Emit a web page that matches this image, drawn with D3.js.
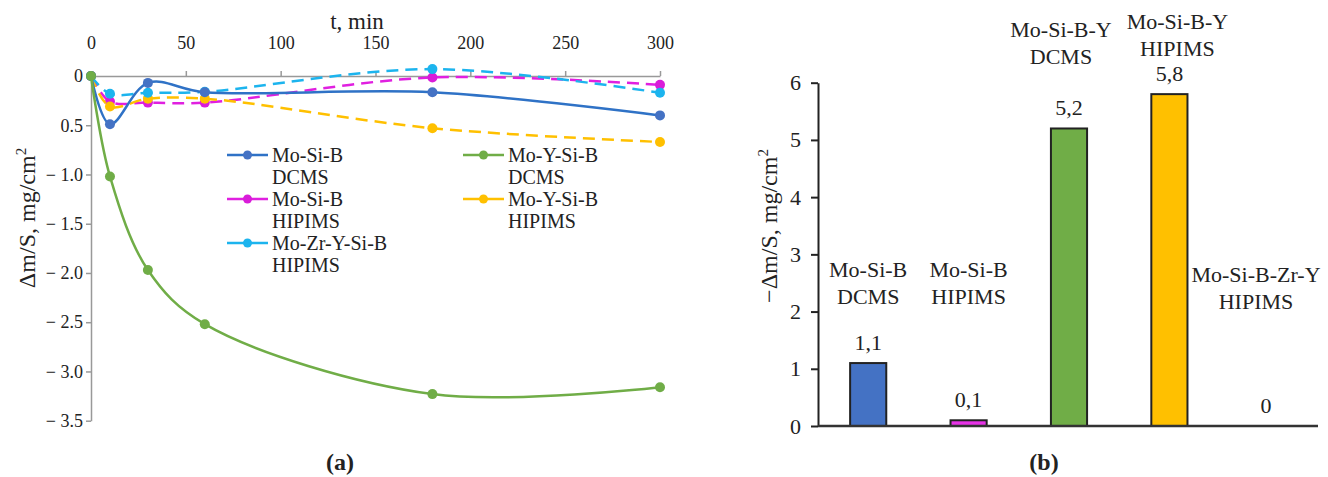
<meta charset="utf-8">
<body style="margin:0">
<script src="https://d3js.org/d3.v7.min.js"></script>
<script>
// ---- data, panel (a) ----
const times = [0, 10, 30, 60, 180, 300];
const seriesNames = [["Mo-Si-B", "DCMS"], ["Mo-Y-Si-B", "DCMS"], ["Mo-Si-B", "HIPIMS"],
                     ["Mo-Y-Si-B", "HIPIMS"], ["Mo-Zr-Y-Si-B", "HIPIMS"]];
const moSiB_DCMS    = [0, -0.49, -0.07, -0.165, -0.165, -0.40];
const moYSiB_DCMS   = [0, -1.02, -1.97, -2.52, -3.23, -3.16];
const moSiB_HIPIMS  = [0, -0.26, -0.27, -0.27, -0.015, -0.09];
const moYSiB_HIPIMS = [0, -0.31, -0.23, -0.23, -0.53, -0.67];
const moZrYSiB_HIPIMS = [0, -0.18, -0.17, -0.16, 0.07, -0.17];
const xTicks = [0, 50, 100, 150, 200, 250, 300];
const yTicks = [0, -0.5, -1, -1.5, -2, -2.5, -3, -3.5];
const yTickLabels = ["0", "0.5", "\u2212 1.0", "\u2212 1.5", "\u2212 2.0", "\u2212 2.5", "\u2212 3.0", "\u2212 3.5"];

// ---- data, panel (b) ----
const barCats = ["Mo-Si-B DCMS", "Mo-Si-B HIPIMS", "Mo-Si-B-Y DCMS", "Mo-Si-B-Y HIPIMS", "Mo-Si-B-Zr-Y HIPIMS"];
const barLines = [["Mo-Si-B", "DCMS"], ["Mo-Si-B", "HIPIMS"], ["Mo-Si-B-Y", "DCMS"],
                  ["Mo-Si-B-Y", "HIPIMS"], ["Mo-Si-B-Zr-Y", "HIPIMS"]];
const barValues = [1.1, 0.1, 5.2, 5.8, 0];
const barValueLabels = ["1,1", "0,1", "5,2", "5,8", "0"];
const barLabelLevel = [2.75, 2.75, 6.94, 7.08, 2.66];   // where the name labels sit, in axis units
const barTicks = [0, 1, 2, 3, 4, 5, 6];

const FONT = "\"Liberation Serif\"";

const svg = d3.select("body").append("svg")
  .attr("width", 1328).attr("height", 477);

// small helper so every label gets the same serif face
function label(parent, size) {
  return parent.append("text")
    .style("font-family", FONT)
    .style("font-size", size + "px")
    .attr("fill", "#222");
}

// ================= panel (a) =================
const lineColors = ["#2F72C6", "#70AD47", "#E020E0", "#FFC000", "#1CB4EE"];
const markColors = ["#4472C4", "#70AD47", "#D91CD9", "#FFC000", "#1CB4EE"];
const dashed = [false, false, true, true, true];
const series = [moSiB_DCMS, moYSiB_DCMS, moSiB_HIPIMS, moYSiB_HIPIMS, moZrYSiB_HIPIMS];

const x = d3.scaleLinear().domain([0, 300]).range([91, 660]);
const y = d3.scaleLinear().domain([-3.5, 0]).range([420.7, 76]);

const gx = svg.append("g").attr("transform", "translate(0," + y(0) + ")")
  .call(d3.axisTop(x).tickValues(xTicks).tickSize(5).tickPadding(22).tickSizeOuter(0));

const gy = svg.append("g").attr("transform", "translate(" + x(0) + ",0)")
  .call(d3.axisLeft(y).tickValues(yTicks).tickSize(5).tickPadding(3).tickSizeOuter(0)
    .tickFormat((d, i) => yTickLabels[i]));

[gx, gy].forEach(g => {
  g.select(".domain").attr("stroke", "#999").attr("stroke-width", 1.5);
  g.selectAll(".tick line").attr("stroke", "#999").attr("stroke-width", 1.5);
  g.selectAll("text").style("font-family", FONT).style("font-size", "18px").attr("fill", "#222");
});

label(svg, 23).attr("x", 357).attr("y", 29).attr("text-anchor", "middle").text("t, min");

const yTitle = label(svg, 24)
  .attr("transform", "translate(35,218) rotate(-90)")
  .attr("text-anchor", "middle");
yTitle.append("tspan").text("\u0394m/S, mg/cm");
yTitle.append("tspan").attr("dy", -9).style("font-size", "15px").text("2");

const line = d3.line()
  .x((d, i) => x(times[i]))
  .y(d => y(d))
  .curve(d3.curveCatmullRom.alpha(0.5));

// dashed series first so solid blue/green sit on top
const order = [2, 3, 4, 0, 1];
order.forEach(k => {
  svg.append("path").datum(series[k])
    .attr("d", line)
    .attr("fill", "none")
    .attr("stroke", lineColors[k])
    .attr("stroke-width", 2.5)
    .attr("stroke-dasharray", dashed[k] ? "12,7" : null);
  svg.append("g").selectAll("circle").data(series[k]).join("circle")
    .attr("cx", (d, i) => x(times[i]))
    .attr("cy", d => y(d))
    .attr("r", 5)
    .attr("fill", markColors[k]);
});

// legend, two columns
const legendCols = [227, 463];
const legendRows = [155, 199, 243];
seriesNames.forEach((nm, k) => {
  const lx = legendCols[k % 2], ly = legendRows[Math.floor(k / 2)];
  const g = svg.append("g").attr("transform", "translate(" + lx + "," + ly + ")");
  g.append("line").attr("x1", 0).attr("x2", 41).attr("y1", 0).attr("y2", 0)
    .attr("stroke", lineColors[k]).attr("stroke-width", 2.5);
  g.append("circle").attr("cx", 20.5).attr("cy", 0).attr("r", 4.5).attr("fill", markColors[k]);
  nm.forEach((t, j) => {
    label(g, 20).attr("x", 45).attr("y", 7 + j * 22).text(t);
  });
});

label(svg, 24).attr("x", 340).attr("y", 470).attr("text-anchor", "middle")
  .style("font-weight", "bold").text("(a)");

// ================= panel (b) =================
const barColors = ["#4472C4", "#E633E6", "#70AD47", "#FFC000", "#A5A5A5"];

const xb = d3.scaleBand().domain(barCats).range([818, 1320])
  .paddingInner(0.64).paddingOuter(0.32);
const yb = d3.scaleLinear().domain([0, 6]).range([426, 82.7]);

const gyb = svg.append("g").attr("transform", "translate(818,0)")
  .call(d3.axisLeft(yb).tickValues(barTicks).tickSize(7).tickPadding(10).tickSizeOuter(0)
    .tickFormat(d3.format("d")));
gyb.select(".domain").attr("stroke", "#222").attr("stroke-width", 2);
gyb.selectAll(".tick line").attr("stroke", "#222").attr("stroke-width", 2);
gyb.selectAll("text").style("font-family", FONT).style("font-size", "22px").attr("fill", "#222");

svg.append("g").selectAll("rect").data(barValues).join("rect")
  .attr("x", (d, i) => xb(barCats[i]))
  .attr("y", d => yb(d))
  .attr("width", xb.bandwidth())
  .attr("height", d => yb(0) - yb(d))
  .attr("fill", (d, i) => barColors[i])
  .attr("stroke", (d, i) => d > 0 ? "#222" : "none")
  .attr("stroke-width", 2);

svg.append("line").attr("x1", 818).attr("x2", 1318)
  .attr("y1", yb(0)).attr("y2", yb(0))
  .attr("stroke", "#333").attr("stroke-width", 2.5);

// value labels
barValues.forEach((v, i) => {
  label(svg, 22)
    .attr("x", Math.min(xb(barCats[i]) + xb.bandwidth() / 2, 1266))
    .attr("y", yb(v) - 13)
    .attr("text-anchor", "middle")
    .text(barValueLabels[i]);
});

// name labels; the two tall bars' labels are nudged apart, the last one kept inside
const nudge = [0, 0, -8, 8, 0];
barLines.forEach((ls, i) => {
  const cx = Math.min(xb(barCats[i]) + xb.bandwidth() / 2 + nudge[i], 1256);
  ls.forEach((t, j) => {
    label(svg, 22)
      .attr("x", cx).attr("y", yb(barLabelLevel[i]) + 8 + j * 27)
      .attr("text-anchor", "middle").text(t);
  });
});

const yTitleB = label(svg, 24)
  .attr("transform", "translate(777,226) rotate(-90)")
  .attr("text-anchor", "middle");
yTitleB.append("tspan").text("\u2212\u0394m/S, mg/cm");
yTitleB.append("tspan").attr("dy", -9).style("font-size", "15px").text("2");

label(svg, 24).attr("x", 1044).attr("y", 470).attr("text-anchor", "middle")
  .style("font-weight", "bold").text("(b)");
</script>
</body>
